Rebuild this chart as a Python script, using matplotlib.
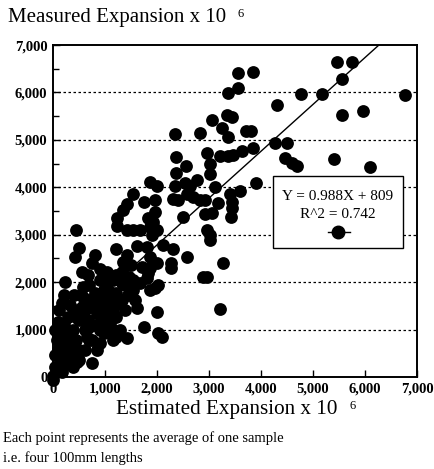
import matplotlib
matplotlib.use("Agg")
import matplotlib.pyplot as plt
from matplotlib.patches import Rectangle
from matplotlib.lines import Line2D
from matplotlib.ticker import FuncFormatter, MultipleLocator
import numpy as np

plt.rcParams["font.family"] = ["Liberation Serif", "DejaVu Serif"]

# estimated expansion (x) and measured expansion (y), x 10^-6
estimated = [
    3560, 3840, 3560, 3360, 4770, 5170, 6760, 5460, 5750, 5560, 4310, 5560, 5960,
    3340, 3440, 3050, 3250, 2340, 2820, 3710, 3810, 3360, 4270, 4500,
    2360, 2960, 3210, 3360, 3460, 3630, 3840, 4460, 4600, 4690, 5400, 6100,
    2360, 2550, 3020, 3020, 1860, 2000, 2340, 2530, 2630, 2770, 3110, 3900,
    1530, 1760, 1960, 1420, 2300, 2400, 2570, 2690, 2820, 2920, 3170, 3400,
    3590, 3440, 3440, 1340, 1240, 1240, 1420, 1530, 1670, 1820, 1960, 1920,
    2000, 1860, 1900, 2500, 2920, 3050, 3420, 450, 2960, 3020,
    2300, 510, 430, 1220, 1610, 2110, 800, 760, 550, 900, 1420, 1800, 1860,
    2000, 1860, 1710, 1510, 1340, 1320, 2260, 2260, 2570, 2880, 2960, 3270,
    3020, 3210, 240, 180, 570, 570, 550, 900, 1030, 1090, 1220, 1280, 1380,
    800, 740, 840, 670, 410, 280, 90, 30, 70, 90, 180, 180, 30, 30, 130, 0,
    380, 450, 320, 510, 410, 260, 700, 650, 760, 610, 840, 900, 990, 1090,
    1220, 1150, 950, 1610, 2000, 1280, 1220, 1150, 1420, 1760, 2010, 2090,
    1960, 1860, 2010, 1670, 1530, 1380, 1530, 1240, 1090, 1150, 950, 840,
    1320, 760, 180, 380, 280, 1030, 1150, 1220, 1320, 1800, 1820, 1470, 0,
    220, 320, 510, 610, 410, 700, 900, 990, 220, 470,
    125, 220, 320, 470, 610, 800, 900, 700, 510, 320, 90, 220, 1050, 1190,
    1440, 1570, 990, 700, 670,
]
measured = [
    6400, 6430, 6090, 5980, 5960, 5960, 5940, 6640, 6640, 6280, 5730, 5520, 5600,
    5520, 5480, 5410, 5260, 5120, 5140, 5180, 5180, 5070, 4930, 4930,
    4630, 4720, 4670, 4650, 4690, 4760, 4820, 4610, 4520, 4460, 4590, 4420,
    4310, 4440, 4500, 4290, 4120, 4020, 4020, 4100, 4020, 4160, 4000, 4100,
    3850, 3700, 3740, 3640, 3760, 3740, 3850, 3800, 3740, 3740, 3680, 3850,
    3930, 3700, 3570, 3530, 3360, 3190, 3090, 3090, 3090, 3360, 3470, 3260,
    3110, 3170, 3000, 3380, 3430, 3450, 3380, 3090, 3110, 3000,
    2710, 2730, 2540, 2690, 2770, 2790, 2580, 2410, 2220, 2280, 2580, 2750, 2540,
    2410, 2300, 2330, 2370, 2430, 2220, 2410, 2300, 2540, 2110, 2110, 2410,
    2900, 1440, 2010, 1560, 1900, 1690, 1480, 2050, 1990, 1800, 1780, 1560, 1420,
    1780, 1480, 1350, 1210, 1420, 1270, 1160, 990, 780, 570, 680, 420, 470, 210, 250, 20,
    990, 780, 890, 570, 420, 300, 1060, 850, 780, 570, 570, 720, 930, 1140,
    1270, 990, 1140, 1460, 1370, 990, 850, 780, 820, 1060, 930, 850,
    1880, 1840, 1950, 1990, 2050, 1950, 1840, 1670, 1560, 1370, 1480, 1630,
    1630, 300, 110, 210, 420, 2220, 2050, 2160, 1990, 2090, 2200, 2110, -60,
    1100, 680, 1210, 1420, 1730, 1630, 1310, 1630, 890, 320,
    1420, 1730, 1520, 1250, 990, 1100, 990, 780, 360, 470, 150, 570, 1310, 1520,
    1730, 1630, 1840, 1950, 2160,
]

slope = 0.988
intercept = 809
r_squared = 0.742

y_ticks = [0, 1000, 2000, 3000, 4000, 5000, 6000, 7000]
x_ticks = [0, 1000, 2000, 3000, 4000, 5000, 6000, 7000]

fig = plt.figure(figsize=(4.34, 4.69), dpi=100)
ax = fig.add_axes([0.122, 0.196, 0.839, 0.708])

ax.scatter(estimated, measured, s=85, color="black", zorder=3, clip_on=False,
           linewidths=0)

fit_x = np.array([0, 7000])
ax.plot(fit_x, slope * fit_x + intercept, color="black", lw=1.0, zorder=2)

ax.set_xlim(0, 7000)
ax.set_ylim(0, 7000)
ax.set_xticks(x_ticks)
ax.set_yticks(y_ticks)
ax.yaxis.set_minor_locator(MultipleLocator(500))
fmt = FuncFormatter(lambda v, p: f"{int(v):,}")
ax.xaxis.set_major_formatter(fmt)
ax.yaxis.set_major_formatter(fmt)
ax.tick_params(direction="in", length=5, width=1.0, labelsize=10.5, pad=4)
ax.tick_params(axis="y", which="minor", direction="in", length=4, width=1.0)
for lab in ax.get_xticklabels() + ax.get_yticklabels():
    lab.set_fontweight("bold")
for s in ax.spines.values():
    s.set_linewidth(1.4)

for yv in y_ticks[1:-1]:
    ax.axhline(yv, color="black", lw=0.9, ls=(0, (2, 2)), zorder=1)

# equation box
ax.add_patch(Rectangle((0.604, 0.389), 0.358, 0.216, transform=ax.transAxes,
                       facecolor="white", edgecolor="black", lw=1.0, zorder=4))
ax.text(0.783, 0.545, f"Y = {slope}X + {intercept}", transform=ax.transAxes,
        ha="center", va="center", fontsize=11, zorder=5)
ax.text(0.783, 0.491, f"R^2 = {r_squared}", transform=ax.transAxes,
        ha="center", va="center", fontsize=11, zorder=5)
ax.add_line(Line2D([0.755, 0.816], [0.437, 0.437], transform=ax.transAxes,
                   color="black", lw=1.0, zorder=5))
ax.add_line(Line2D([0.783], [0.437], transform=ax.transAxes, marker="o",
                   markersize=9, color="black", zorder=6))

title = fig.text(0.018, 0.962, "Measured Expansion x 10", fontsize=15,
                 ha="left", va="center")
xlab = fig.text(0.523, 0.126, "Estimated Expansion x 10", fontsize=15.2,
                ha="center", va="center")
fig.text(0.008, 0.066, "Each point represents the average of one sample",
         fontsize=10.5, ha="left", va="center")
fig.text(0.008, 0.023, "i.e. four 100mm lengths", fontsize=10.5, ha="left",
         va="center")

# small raised "6" after both axis titles
fig.canvas.draw()
inv = fig.transFigure.inverted()
for t in (title, xlab):
    bb = t.get_window_extent()
    x1, y1 = inv.transform((bb.x1 + 12, bb.y1))
    fig.text(x1, y1, "6", fontsize=9, ha="left", va="top")

fig.savefig("out.png", dpi=100)
